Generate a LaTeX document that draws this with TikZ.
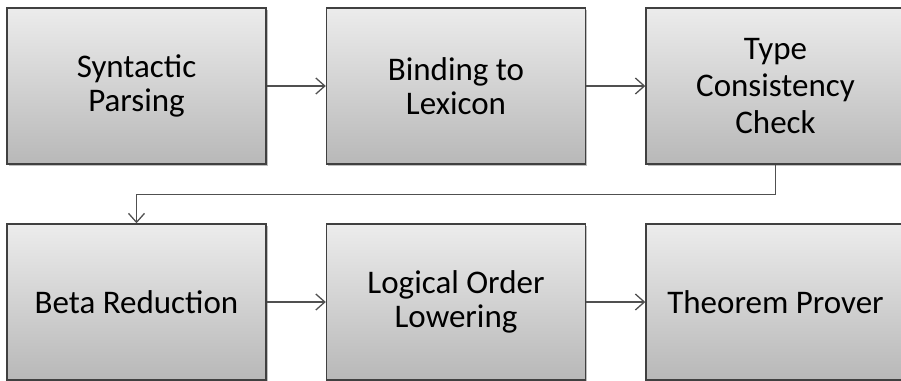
\documentclass[tikz,border=0pt]{standalone}
\usepackage{fontspec}
\setmainfont{Carlito}
\usetikzlibrary{arrows.meta,shadows}
\definecolor{boxtop}{RGB}{236,236,236}
\definecolor{boxbottom}{RGB}{184,184,184}
\definecolor{boxline}{RGB}{64,64,64}
\definecolor{flowline}{RGB}{80,80,80}
\tikzset{
  stepbox/.style={rectangle, draw=boxline, line width=1.4pt,
    top color=boxtop, bottom color=boxbottom,
    minimum width=259pt, minimum height=156pt, inner sep=0pt,
    align=center, font=\fontsize{33}{34}\selectfont,
    drop shadow={shadow xshift=1.5pt, shadow yshift=-2pt, opacity=0.25, fill=black}},
  flow/.style={draw=flowline, line width=1.3pt,
    -{Straight Barb[length=9pt,width=16pt,line width=1.3pt]}}
}
\begin{document}
\begin{tikzpicture}[x=1pt, y=-1pt]
    \useasboundingbox (0,0) rectangle (901,380);
    \clip (0,0) rectangle (901,380);
        \node[stepbox] (parse) at (136.5,86) {Syntactic\\Parsing};
        \node[stepbox] (bind) at (456,86) {Binding to\\Lexicon};
        \node[stepbox, font=\fontsize{33}{37}\selectfont] (typecheck) at (775.5,86) {Type\\Consistency\\Check};
        \node[stepbox] (beta) at (136.5,302) {Beta Reduction};
        \node[stepbox] (lower) at (456,302) {Logical Order\\Lowering};
        \node[stepbox] (prover) at (775.5,302) {Theorem Prover};
        \draw[flow] (parse) -- (bind);
        \draw[flow] (bind) -- (typecheck);
        \draw[flow] (typecheck.south) -- ++(0,30) -| (beta.north);
        \draw[flow] (beta) -- (lower);
        \draw[flow] (lower) -- (prover);
    \end{tikzpicture}
\end{document}
